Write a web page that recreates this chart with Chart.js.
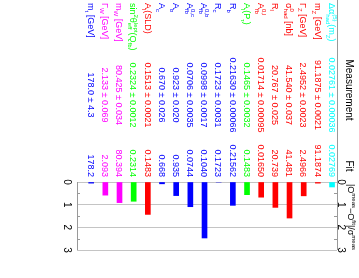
<!DOCTYPE html>
<html>
<head>
<meta charset="utf-8">
<script src="https://cdn.jsdelivr.net/npm/chart.js@4.4.1/dist/chart.umd.min.js"></script>
<style>
  body { margin: 0; background: #fff; }
  #wrap { width: 359px; height: 278px; }
</style>
</head>
<body>
<div id="wrap"><canvas id="pulls" width="359" height="278"></canvas></div>
<script>
// rows, top of the original table first
const names = [
  'Δα^{(5)}_{had}(m_{Z})', 'm_{Z} [GeV]', 'Γ_{Z} [GeV]', 'σ^{0}_{had} [nb]', 'R_{l}',
  'A^{0,l}_{fb}', 'A_{l}(P_{τ})', 'R_{b}', 'R_{c}', 'A^{0,b}_{fb}', 'A^{0,c}_{fb}',
  'A_{b}', 'A_{c}', 'A_{l}(SLD)', 'sin^{2}θ^{lept}_{eff}(Q_{fb})', 'm_{W} [GeV]',
  'Γ_{W} [GeV]', 'm_{t} [GeV]'
];
const measured = ['0.02761', '91.1875', '2.4952', '41.540', '20.767', '0.01714', '0.1465',
  '0.21630', '0.1723', '0.0998', '0.0706', '0.923', '0.670', '0.1513', '0.2324',
  '80.425', '2.133', '178.0'];
const errors = ['0.00036', '0.0021', '0.0023', '0.037', '0.025', '0.00095', '0.0032',
  '0.00066', '0.0031', '0.0017', '0.0035', '0.020', '0.026', '0.0021', '0.0012',
  '0.034', '0.069', '4.3'];
const fitted = ['0.02769', '91.1874', '2.4966', '41.481', '20.739', '0.01650', '0.1483',
  '0.21562', '0.1723', '0.1040', '0.0744', '0.935', '0.668', '0.1483', '0.2314',
  '80.394', '2.093', '178.2'];
const pulls = [0.22, 0.05, 0.61, 1.59, 1.12, 0.67, 0.56, 1.03, 0.0, 2.47, 1.09,
  0.6, 0.08, 1.43, 0.85, 0.91, 0.58, 0.05];
const rowColors = ['#00ffff', '#ff0000', '#ff0000', '#ff0000', '#ff0000', '#ff0000', '#00ff00',
  '#0000ff', '#0000ff', '#0000ff', '#0000ff', '#0000ff', '#0000ff', '#ff0000', '#00ff00',
  '#ff00ff', '#ff00ff', '#0000ff'];
const pullTicks = [0, 1, 2, 3];

const FONT = 'Liberation Sans, Arial, Helvetica, sans-serif';

// little parser for ^{..} and _{..}, stacked when both follow each other
function parseRich(s) {
  let segs = [], i = 0, buf = '';
  function grp() {
    if (s[i] === '{') {
      let j = s.indexOf('}', i);
      let g = s.slice(i + 1, j);
      i = j + 1;
      return g;
    }
    return s[i++];
  }
  while (i < s.length) {
    let c = s[i];
    if (c === '^' || c === '_') {
      if (buf) { segs.push({ t: buf }); buf = ''; }
      i++;
      let seg = c === '^' ? { u: grp() } : { d: grp() };
      if ((s[i] === '^' && !seg.u) || (s[i] === '_' && !seg.d)) {
        let c2 = s[i]; i++;
        if (c2 === '^') seg.u = grp(); else seg.d = grp();
      }
      segs.push(seg);
    } else {
      buf += c; i++;
    }
  }
  if (buf) segs.push({ t: buf });
  return segs;
}

// text turned 90deg clockwise, running downwards from (X,Y)
function drawRich(ctx, str, X, Y, size, color, align) {
  let segs = parseRich(str);
  let small = Math.round(size * 0.7);
  ctx.save();
  ctx.translate(X, Y);
  ctx.rotate(Math.PI / 2);
  ctx.fillStyle = color;
  ctx.textBaseline = 'alphabetic';
  ctx.textAlign = 'left';
  // total width first
  let total = 0;
  for (let sg of segs) {
    if (sg.t) { ctx.font = size + 'px ' + FONT; total += ctx.measureText(sg.t).width; }
    else {
      ctx.font = small + 'px ' + FONT;
      total += Math.max(sg.u ? ctx.measureText(sg.u).width : 0, sg.d ? ctx.measureText(sg.d).width : 0);
    }
  }
  let x = align === 'center' ? -total / 2 : (align === 'right' ? -total : 0);
  let base = size * 0.36;
  for (let sg of segs) {
    if (sg.t) {
      ctx.font = size + 'px ' + FONT;
      ctx.fillText(sg.t, x, base);
      x += ctx.measureText(sg.t).width;
    } else {
      ctx.font = small + 'px ' + FONT;
      let w = 0;
      if (sg.u) { ctx.fillText(sg.u, x, base - size * 0.42); w = ctx.measureText(sg.u).width; }
      if (sg.d) { ctx.fillText(sg.d, x, base + size * 0.28); w = Math.max(w, ctx.measureText(sg.d).width); }
      x += w;
    }
  }
  ctx.restore();
}

const tablePlugin = {
  id: 'table',
  afterDraw(chart) {
    const ctx = chart.ctx;
    const xs = chart.scales.x;
    const ys = chart.scales.y;
    const area = chart.chartArea;

    // rows
    for (let i = 0; i < names.length; i++) {
      let X = xs.getPixelForValue(i);
      drawRich(ctx, names[i], X, 3, 9, rowColors[i], 'left');
      drawRich(ctx, measured[i] + ' ± ' + errors[i], X, 95, 9, rowColors[i], 'center');
      drawRich(ctx, fitted[i], X, 177, 9, rowColors[i], 'right');
    }

    // headers
    drawRich(ctx, 'Measurement', 350, 90, 10, '#000', 'center');
    drawRich(ctx, 'Fit', 350, 166, 10, '#000', 'center');

    // frame lines of the pull axis
    ctx.save();
    ctx.strokeStyle = '#999';
    ctx.lineWidth = 1;
    ctx.beginPath();
    ctx.moveTo(Math.round(area.right) + 0.5, 0);
    ctx.lineTo(Math.round(area.right) + 0.5, area.bottom);
    ctx.moveTo(Math.round(area.left) + 0.5, area.top);
    ctx.lineTo(Math.round(area.left) + 0.5, area.bottom);
    // minor ticks
    for (let v = 0.5; v < 3; v += 1) {
      let Y = Math.round(ys.getPixelForValue(v)) + 0.5;
      ctx.moveTo(area.left, Y); ctx.lineTo(area.left + 3, Y);
      ctx.moveTo(area.right, Y); ctx.lineTo(area.right - 3, Y);
    }
    ctx.stroke();
    ctx.restore();

    for (let v of pullTicks) {
      let Y = ys.getPixelForValue(v);
      drawRich(ctx, String(v), 68, Y, 10, '#000', 'center');
      drawRich(ctx, String(v), 342, Y, 10, '#000', 'center');
    }
    drawRich(ctx, '|O^{meas}−O^{fit}|/σ^{meas}', 351, 217, 9, '#000', 'center');
  }
};

new Chart(document.getElementById('pulls'), {
  type: 'bar',
  data: {
    datasets: [{
      data: pulls.map((p, i) => ({ x: i, y: p })),
      backgroundColor: rowColors,
      borderWidth: 0,
      barThickness: 5
    }]
  },
  options: {
    responsive: false,
    animation: false,
    layout: { padding: { left: 77, right: 22, top: 182, bottom: 28 } },
    plugins: { legend: { display: false }, tooltip: { enabled: false } },
    scales: {
      x: { type: 'linear', reverse: true, min: -0.35, max: 18.0, display: false, offset: false },
      y: {
        reverse: true, min: 0, max: 3,
        ticks: { display: false, stepSize: 1 },
        grid: { color: '#c4c4c4', drawTicks: false },
        border: { display: false }
      }
    }
  },
  plugins: [tablePlugin]
});
</script>
</body>
</html>
